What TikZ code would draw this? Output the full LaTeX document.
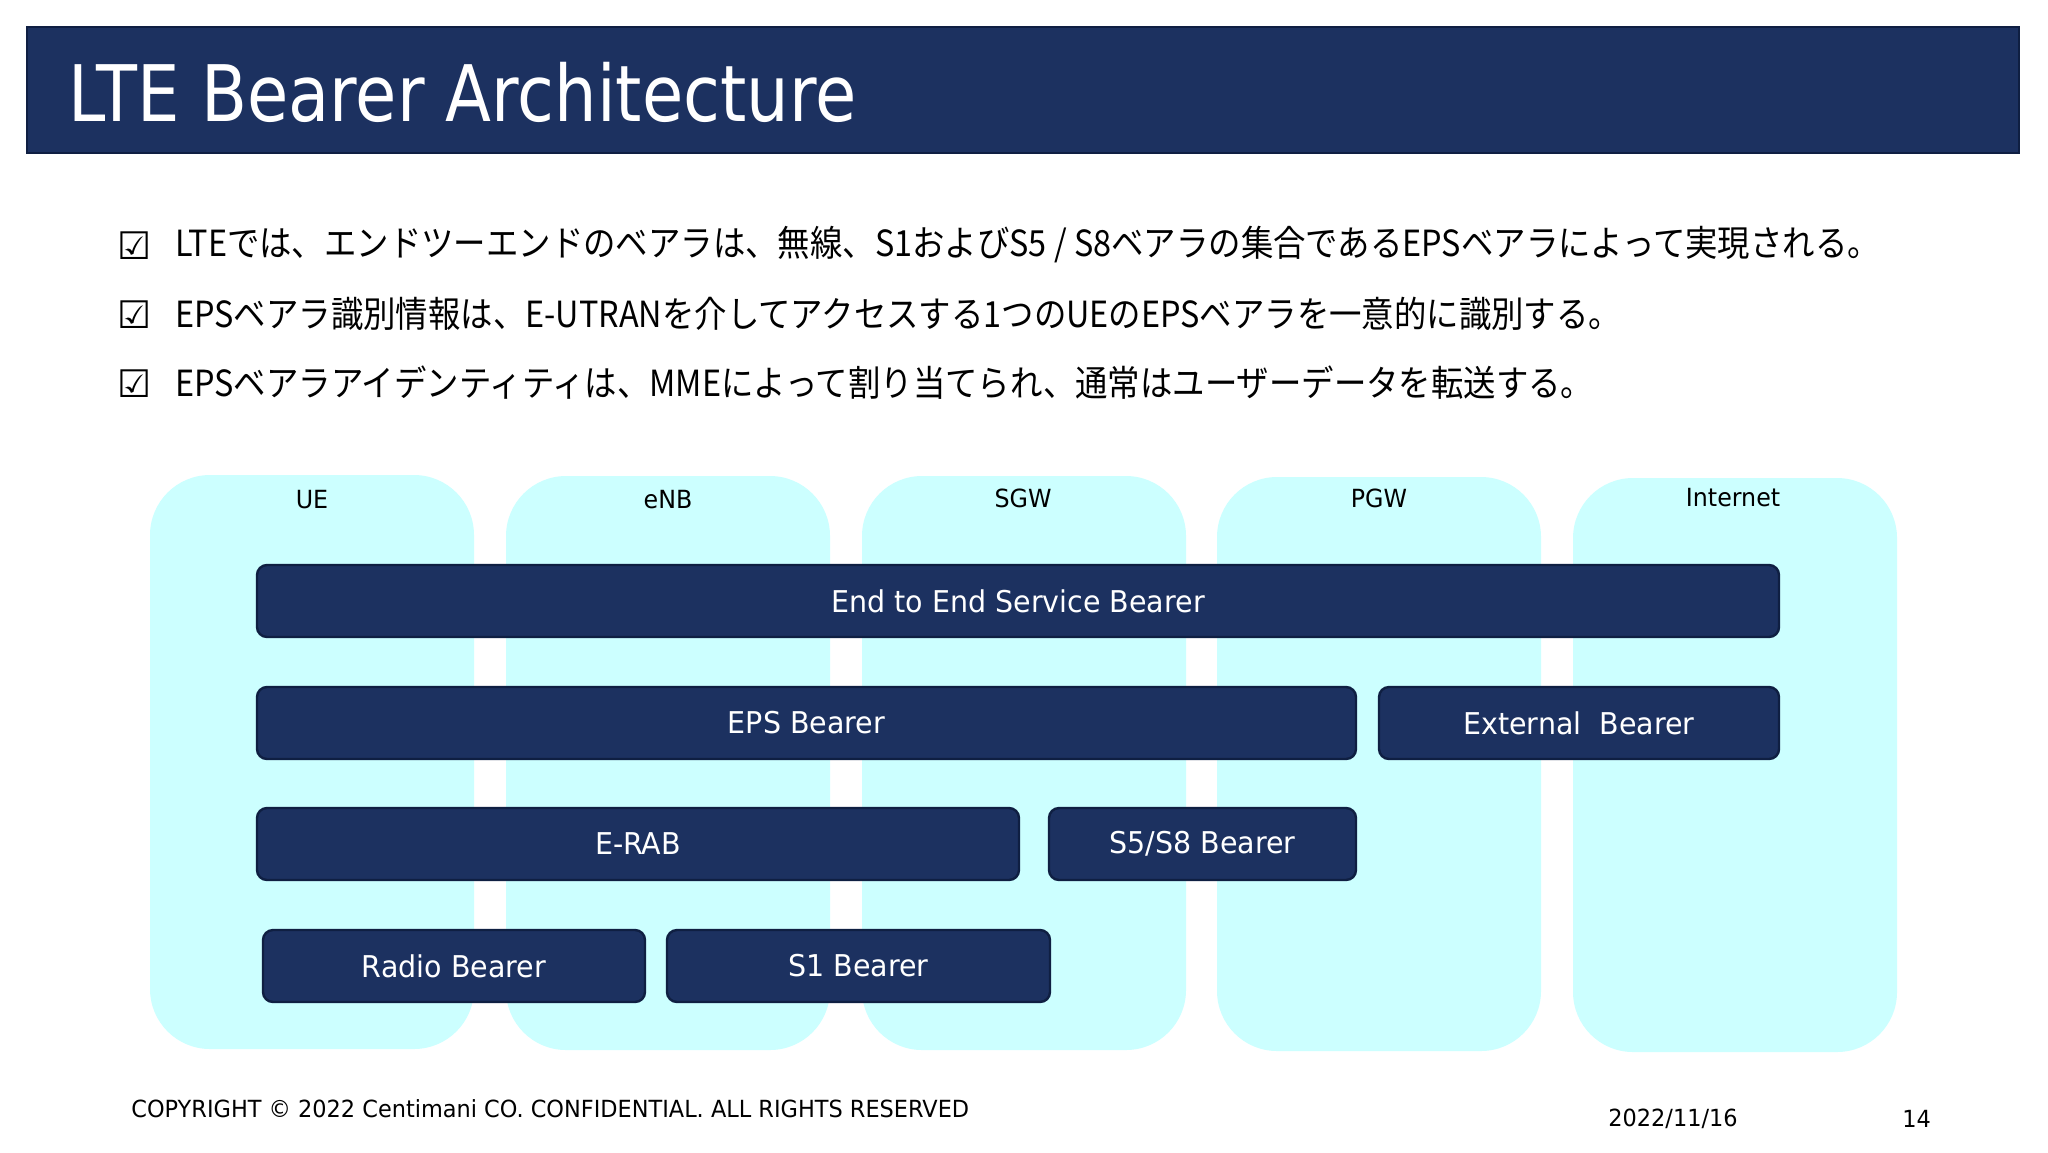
\documentclass[tikz,border=0pt]{standalone}
\usepackage{fontspec}
\setmainfont{DejaVu Sans}[FakeStretch=0.95]
\newfontfamily\jpfont{Noto Sans CJK JP}[FakeStretch=0.9]
\newfontfamily\titlefont{DejaVu Sans}[FakeStretch=0.86]
\newfontfamily\boxfont{DejaVu Sans}

\definecolor{slidenavy}{HTML}{1C3160}
\definecolor{navyedge}{HTML}{0F1F42}
\definecolor{paleaqua}{HTML}{CCFFFF}

\tikzset{
    panel/.style = {fill=paleaqua, rounded corners=30pt, inner sep=0pt,
        minimum width=162pt, minimum height=287pt},
    panellabel/.style = {font=\fontsize{12.5}{15}\selectfont, text=black},
    bearer/.style = {fill=slidenavy, draw=navyedge, line width=1.2pt,
        rounded corners=5pt, inner sep=0pt, minimum height=36pt,
        text=white, font=\fontsize{15}{18}\selectfont},
    bullet/.style = {anchor=west, inner sep=0pt,
        font=\jpfont\fontsize{18}{22}\selectfont},
    checkbox/.style = {anchor=west, inner sep=0pt,
        font=\boxfont\fontsize{19}{22}\selectfont},
    footer/.style = {anchor=west, inner sep=0pt,
        font=\fontsize{11.8}{14}\selectfont}
}

\begin{document}
\begin{tikzpicture}[
        x = .5pt,
        y = -.5pt
    ]
        \useasboundingbox[fill=white] (0,0) rectangle (2048,1152);

        % title bar
        \node[fill=slidenavy, draw=navyedge, line width=1pt, inner sep=0pt,
            minimum width=996pt, minimum height=63pt] (titlebar) at (1023,90) {};
        \node[anchor=west, inner sep=0pt, text=white,
            font=\titlefont\fontsize{39}{46}\selectfont] (title) at (68,92) {LTE Bearer Architecture};

        % bullets
        \node[checkbox] (chk1) at (117,246) {☑};
        \node[bullet] (txt1) at (175,245) {LTEでは、エンドツーエンドのベアラは、無線、S1およびS5 / S8ベアラの集合であるEPSベアラによって実現される。};
        \node[checkbox] (chk2) at (117,315) {☑};
        \node[bullet] (txt2) at (175,314) {EPSベアラ識別情報は、E-UTRANを介してアクセスする1つのUEのEPSベアラを一意的に識別する。};
        \node[checkbox] (chk3) at (117,384) {☑};
        \node[bullet] (txt3) at (175,383) {EPSベアラアイデンティティは、MMEによって割り当てられ、通常はユーザーデータを転送する。};

        % network elements
        \node[panel] (ue)   at (312,762)  {};
        \node[panel] (enb)  at (668,763)  {};
        \node[panel] (sgw)  at (1024,763) {};
        \node[panel] (pgw)  at (1379,764) {};
        \node[panel] (inet) at (1735,765) {};
        \node[panellabel] (uelbl)   at (312,500)  {UE};
        \node[panellabel] (enblbl)  at (668,500)  {eNB};
        \node[panellabel] (sgwlbl)  at (1023,498) {SGW};
        \node[panellabel] (pgwlbl)  at (1379,498) {PGW};
        \node[panellabel] (inetlbl) at (1733,498) {Internet};

        % bearers
        \node[bearer, minimum width=761pt]   (e2e)   at (1018,601)  {End to End Service Bearer};
        \node[bearer, minimum width=549.5pt] (eps)   at (806.5,723) {EPS Bearer};
        \node[bearer, minimum width=200pt]   (ext)   at (1579,723)  {External\ \ Bearer};
        \node[bearer, minimum width=381pt]   (erab)  at (638,844)   {E-RAB};
        \node[bearer, minimum width=153.5pt] (s5s8)  at (1202.5,844){S5/S8 Bearer};
        \node[bearer, minimum width=191pt]   (radio) at (454,966)   {Radio Bearer};
        \node[bearer, minimum width=191.5pt] (s1)    at (858.5,966) {S1 Bearer};

        % footer
        \node[footer] (copy) at (131,1109) {COPYRIGHT © 2022 Centimani CO. CONFIDENTIAL. ALL RIGHTS RESERVED};
        \node[footer] (date) at (1608,1119) {2022/11/16};
        \node[footer] (page) at (1902,1119) {14};
    \end{tikzpicture}
\end{document}
